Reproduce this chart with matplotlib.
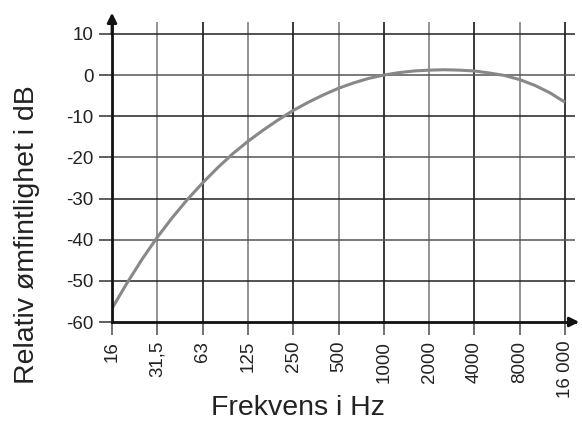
import matplotlib.pyplot as plt
import numpy as np

plt.rcParams['font.family'] = ['Liberation Sans', 'DejaVu Sans']

# octave band labels on the x axis
octave_labels = ['16', '31,5', '63', '125', '250', '500', '1000', '2000', '4000', '8000', '16 000']
yticks = [10, 0, -10, -20, -30, -40, -50, -60]

# third-octave bands (band number counted from 16 Hz) and relative sensitivity in dB
band_no = list(range(31))
sens_db = [-56.7, -50.5, -44.7, -39.4, -34.6, -30.2, -26.2, -22.5, -19.1, -16.1,
           -13.4, -10.9, -8.6, -6.6, -4.8, -3.2, -1.9, -0.8, 0.0, 0.6,
           1.0, 1.2, 1.3, 1.2, 1.0, 0.5, -0.1, -1.1, -2.5, -4.3, -6.6]

fig = plt.figure(figsize=(5.82, 4.23), dpi=100)
ax = fig.add_axes([112/582, 101/423, (575-112)/582, 300/423])

x = np.array(band_no) / 3.0
xmax = 10.22
ax.set_xlim(0, xmax)
ax.set_ylim(-60, 12.9)

# grid lines, drawn by hand so colours can alternate
for i in range(1, len(octave_labels)):
    c = '#8a8a8a' if i % 2 else '#2a2a2a'
    ax.axvline(i, color=c, lw=1.3, zorder=1)
for j, v in enumerate(yticks[:-1]):
    c = '#222222' if j % 2 == 0 else '#555555'
    ax.axhline(v, color=c, lw=1.1, zorder=1)

ax.plot(x, sens_db, color='#888888', lw=2.2, zorder=3, solid_capstyle='butt')

ax.set_xticks(range(len(octave_labels)))
ax.set_xticklabels(octave_labels, rotation=90, fontsize=13.5, color='#222222')
ax.set_yticks(yticks)
ax.set_yticklabels([str(v) for v in yticks], fontsize=13.5, color='#222222')
ax.tick_params(axis='x', length=9.5, width=1.3, color='#666666', pad=4)
ax.tick_params(axis='y', length=9.5, width=1.1, color='#333333', pad=4)

for s in ['top', 'right']:
    ax.spines[s].set_visible(False)
for s in ['left', 'bottom']:
    ax.spines[s].set_linewidth(2)
    ax.spines[s].set_color('#111111')
    ax.spines[s].set_zorder(4)

# arrow heads on the axes
ax.annotate('', xy=(0, 1.04), xytext=(0, 0.95), xycoords='axes fraction',
            arrowprops=dict(arrowstyle='-|>', color='#111111', lw=2, mutation_scale=14),
            annotation_clip=False)
ax.annotate('', xy=(1.015, 0), xytext=(0.98, 0), xycoords='axes fraction',
            arrowprops=dict(arrowstyle='-|>', color='#111111', lw=2, mutation_scale=14),
            annotation_clip=False)

fig.text(27/582, 1 - 235/423, 'Relativ ømfintlighet i dB', rotation=90,
         ha='center', va='center', fontsize=20.5, color='#222222')
fig.text(298/582, 1 - 408/423, 'Frekvens i Hz', ha='center', va='center',
         fontsize=20.5, color='#222222')

fig.savefig('out.png', dpi=100)
